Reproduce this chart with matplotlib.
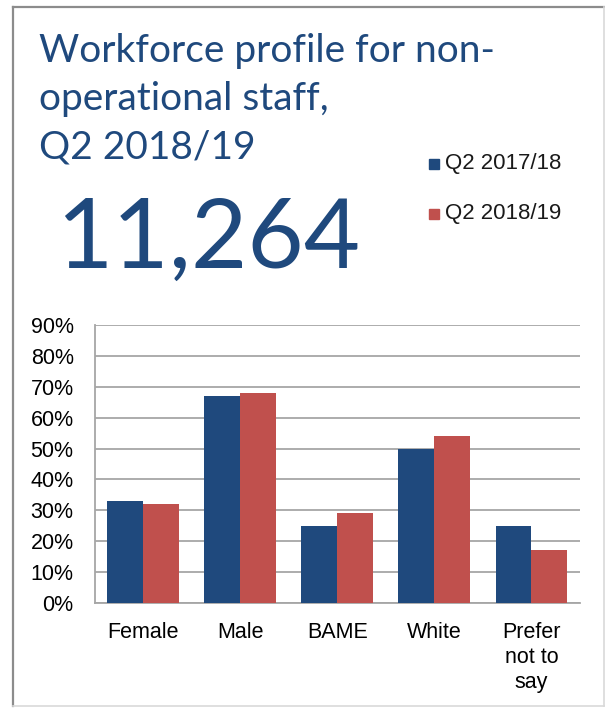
import matplotlib
matplotlib.use("Agg")
import matplotlib.pyplot as plt
from matplotlib.lines import Line2D
from matplotlib.patches import Rectangle
from matplotlib.ticker import PercentFormatter
import numpy as np

categories = ["Female", "Male", "BAME", "White", "Prefer\nnot to\nsay"]
series_names = ["Q2 2017/18", "Q2 2018/19"]
q2_2017_18 = [33, 67, 25, 50, 25]
q2_2018_19 = [32, 68, 29, 54, 17]
yticks = [0, 10, 20, 30, 40, 50, 60, 70, 80, 90]
title_lines = ["Workforce profile for non-", "operational staff,", "Q2 2018/19"]
headline = "11,264"

BLUE = "#1F497D"
RED = "#C0504D"
W, H = 605, 709

fig = plt.figure(figsize=(W / 100, H / 100), dpi=100)
fig.patch.set_facecolor("white")

def fx(px):
    return px / W

def fy(py):
    return 1 - py / H

ax = fig.add_axes([fx(94.5), fy(603), fx(580) - fx(94.5), fy(325) - fy(603)])
x = np.arange(len(categories))
bw = 0.37
ax.bar(x - bw / 2, q2_2017_18, bw, color=BLUE, zorder=3, label=series_names[0])
ax.bar(x + bw / 2, q2_2018_19, bw, color=RED, zorder=3, label=series_names[1])
ax.set_xlim(-0.5, len(categories) - 0.5)
ax.set_ylim(0, 90)
ax.set_yticks(yticks)
ax.yaxis.set_major_formatter(PercentFormatter(decimals=0))
ax.set_xticks(x)
ax.set_xticklabels(categories, linespacing=1.25, va="top")
ax.grid(axis="y", color="#A6A6A6", linewidth=1.3, zorder=0)
for s in ["top", "right"]:
    ax.spines[s].set_visible(False)
ax.spines["left"].set_color("#A6A6A6")
ax.spines["bottom"].set_color("#A6A6A6")
ax.spines["left"].set_linewidth(1.3)
ax.spines["bottom"].set_linewidth(1.3)
ax.tick_params(axis="both", length=0, labelsize=15.5, colors="black")
ax.tick_params(axis="y", pad=15)
ax.tick_params(axis="x", pad=14)
for lab in ax.get_xticklabels() + ax.get_yticklabels():
    lab.set_fontfamily("Liberation Sans")

# Title
for i, t in enumerate(title_lines):
    fig.text(fx(38.6), fy(62 + 48 * i), t, fontsize=28, color=BLUE,
             fontfamily="Lato", va="baseline", ha="left")

# Headline number
fig.text(fx(56), fy(268), headline, fontsize=70, color=BLUE,
         fontfamily="Lato", va="baseline", ha="left")

# Legend
for i, (name, col) in enumerate(zip(series_names, [BLUE, RED])):
    cy = 164 + 50 * i
    fig.patches.append(Rectangle((fx(429), fy(cy + 5)), fx(439) - fx(429), fy(cy - 5) - fy(cy + 5),
                                 transform=fig.transFigure, color=col, figure=fig))
    fig.text(fx(445), fy(cy), name, fontsize=16, fontfamily="Liberation Sans",
             va="center", ha="left", color="#1a1a1a")

# Border
fig.add_artist(Line2D([fx(13), fx(13)], [fy(7), fy(706)], transform=fig.transFigure, color="#8C8C8C", lw=1.6))
fig.add_artist(Line2D([fx(13), fx(604)], [fy(7), fy(7)], transform=fig.transFigure, color="#8C8C8C", lw=1.6))
fig.add_artist(Line2D([fx(604), fx(604)], [fy(7), fy(706)], transform=fig.transFigure, color="#D9D9D9", lw=1.2))
fig.add_artist(Line2D([fx(13), fx(604)], [fy(706), fy(706)], transform=fig.transFigure, color="#D9D9D9", lw=1.2))

fig.savefig("out.png", dpi=100)
